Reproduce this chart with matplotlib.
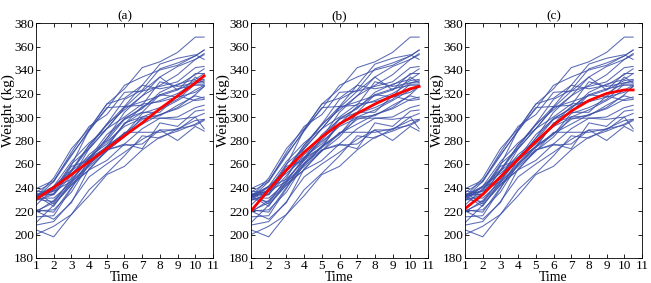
import numpy as np
import matplotlib
matplotlib.use("Agg")
import matplotlib.pyplot as plt

plt.rcParams['font.family'] = ['Liberation Serif', 'DejaVu Serif']

time = [1, 2, 3, 4, 5, 6, 7, 8, 9, 10, 10.5]

cattle = [
    [233, 224, 245, 258, 271, 287, 287, 287, 290, 293, 297],
    [231, 238, 260, 273, 290, 300, 311, 313, 317, 321, 326],
    [232, 237, 245, 265, 285, 298, 304, 319, 317, 334, 329],
    [239, 246, 268, 288, 308, 309, 327, 324, 327, 336, 341],
    [215, 216, 239, 264, 282, 299, 307, 321, 328, 332, 337],
    [236, 226, 242, 255, 263, 277, 290, 299, 300, 308, 310],
    [219, 229, 246, 265, 279, 292, 299, 299, 298, 300, 290],
    [231, 245, 270, 292, 302, 321, 322, 334, 323, 337, 337],
    [230, 228, 243, 255, 272, 276, 277, 289, 289, 300, 303],
    [232, 240, 247, 263, 275, 286, 294, 302, 308, 319, 326],
    [234, 237, 259, 289, 311, 324, 342, 347, 355, 368, 368],
    [237, 235, 258, 263, 282, 304, 318, 327, 336, 349, 353],
    [229, 234, 254, 276, 294, 315, 323, 341, 346, 352, 357],
    [220, 227, 248, 273, 290, 308, 322, 326, 330, 342, 343],
    [232, 241, 255, 276, 293, 309, 310, 330, 326, 329, 330],
    [210, 225, 242, 260, 272, 277, 273, 295, 292, 305, 306],
    [229, 241, 252, 265, 274, 285, 303, 308, 315, 328, 328],
    [204, 198, 217, 233, 251, 258, 272, 283, 288, 294, 298],
    [220, 221, 236, 260, 274, 295, 300, 301, 310, 318, 316],
    [233, 234, 250, 268, 280, 298, 308, 319, 324, 327, 327],
    [234, 234, 254, 274, 294, 306, 318, 334, 343, 349, 354],
    [200, 207, 217, 238, 252, 267, 284, 282, 290, 297, 298],
    [220, 213, 227, 256, 271, 283, 300, 306, 314, 323, 327],
    [225, 239, 254, 266, 277, 294, 309, 314, 320, 329, 331],
    [236, 245, 267, 289, 307, 327, 334, 340, 344, 352, 357],
    [231, 231, 244, 261, 275, 286, 298, 302, 307, 315, 317],
    [208, 211, 228, 249, 260, 270, 281, 289, 280, 292, 288],
    [232, 248, 273, 290, 311, 316, 327, 345, 350, 353, 349],
    [233, 241, 262, 278, 290, 308, 313, 318, 323, 331, 332],
    [221, 219, 240, 259, 275, 294, 304, 304, 318, 314, 315],
]

fit_a = [230, 240, 251, 262, 273, 284, 295, 307, 318, 329, 335]
fit_b = [220, 238, 255, 270, 283, 294, 303, 311, 318, 324, 326]
fit_c = [222, 234, 249, 264, 279, 293, 305, 314, 320, 323, 323]

titles = ['(a)', '(b)', '(c)']
fits = [fit_a, fit_b, fit_c]

fig = plt.figure(figsize=(6.51, 2.83), dpi=100)
lefts = [36, 251, 465]
W = 651.0
H = 283.0
for i in range(3):
    ax = fig.add_axes([lefts[i] / W, (H - 258) / H, 177 / W, 235 / H])
    for c in cattle:
        ax.plot(time, c, color='#3c50a8', lw=0.75, alpha=0.85)
    ax.plot(time, fits[i], color='#ff0000', lw=2.0)
    ax.set_xlim(1, 11)
    ax.set_ylim(180, 380)
    ax.set_xticks(range(1, 12))
    ax.set_yticks(range(180, 381, 20))
    ax.tick_params(direction='in', top=True, right=True, labelsize=9.5, length=3, width=0.6, pad=1.5)
    for s in ax.spines.values():
        s.set_linewidth(0.6)
    ax.set_title(titles[i], fontsize=9.5, pad=3)
    ax.set_xlabel('Time', fontsize=10, labelpad=-1)
    ax.set_ylabel('Weight (kg)', fontsize=11)
    ax.yaxis.set_label_coords(-0.118, 0.626)

fig.savefig('out.png', dpi=100)
